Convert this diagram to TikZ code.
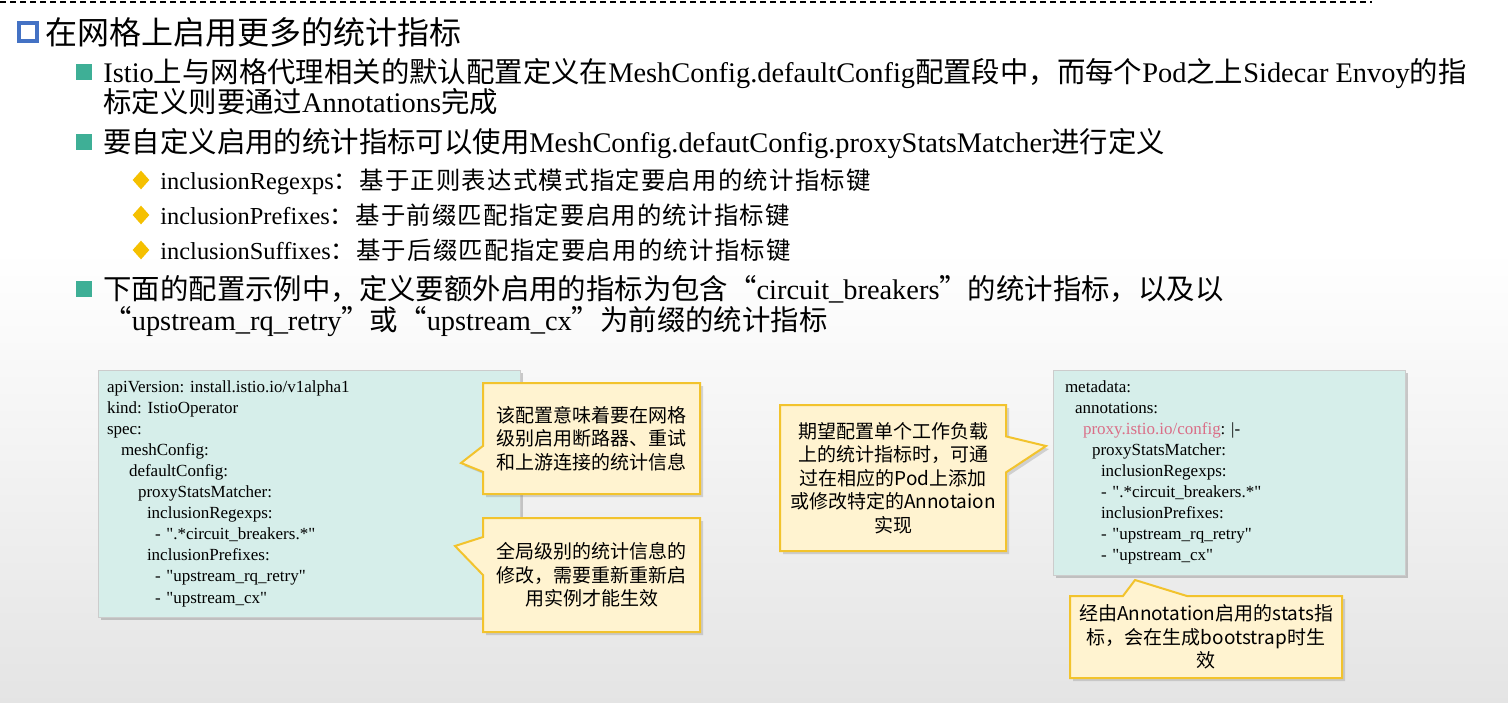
\documentclass[tikz,border=0pt]{standalone}
\usepackage{fontspec}
\setmainfont{Liberation Serif}
\newfontfamily\cjk{Noto Sans CJK SC}
\newfontfamily\cjkwide{Noto Sans CJK SC}[LetterSpace=5]
\font\codefnt="Liberation Serif" at 8.5pt
\usetikzlibrary{shapes.geometric,shapes.callouts,shadows}

% CJK runs switch to the CJK font automatically
\newXeTeXintercharclass\zhclass
\newcount\zhcode
\def\zhrange#1#2{\zhcode=#1 \loop\XeTeXcharclass\zhcode=\zhclass \ifnum\zhcode<#2 \advance\zhcode by 1 \repeat}
\zhrange{"3000}{"303F}
\zhrange{"4E00}{"9FFF}
\zhrange{"FF00}{"FFEF}
\XeTeXcharclass"201C=\zhclass
\XeTeXcharclass"201D=\zhclass
\def\zhfont{\cjk}
\def\enfont{\rmfamily}
\XeTeXinterchartoks 0 \zhclass={\zhfont}
\XeTeXinterchartoks 4095 \zhclass={\zhfont}
\XeTeXinterchartoks \zhclass 0={\enfont}
\XeTeXinterchartoks \zhclass 4095={\enfont}
\XeTeXinterchartokenstate=1
\newcommand\notefont{\fontsize{9.5}{11.7}\selectfont\cjk\let\enfont\cjk}
\newcommand\widefont{\fontsize{12.2}{14}\selectfont\let\zhfont\cjkwide}
\newcommand\yamlfont{\fontsize{8.5}{10.55}\selectfont\codefnt\frenchspacing}

\definecolor{codebg}{RGB}{214,238,234}
\definecolor{notebg}{RGB}{255,243,208}
\definecolor{noteline}{RGB}{242,195,45}
\definecolor{bulgreen}{RGB}{62,175,150}
\definecolor{bulblue}{RGB}{68,114,196}
\definecolor{bulyellow}{RGB}{245,192,0}
\definecolor{keypink}{RGB}{218,110,135}

\begin{document}
\begin{tikzpicture}[x=0.5pt,y=-0.5pt,
  lvone/.style={anchor=base west,inner sep=0pt,font=\fontsize{14.2}{16}\selectfont},
  lvtwo/.style={anchor=base west,inner sep=0pt,font=\widefont},
  code/.style={draw=gray!40,fill=codebg,align=left,inner ysep=3pt,font=\yamlfont,
    drop shadow={shadow xshift=1.5pt,shadow yshift=-1.5pt,opacity=.4}},
  note/.style={rectangle callout,draw=noteline,line width=1pt,fill=notebg,align=center,
    callout pointer width=14pt,inner sep=2pt,font=\notefont,
    drop shadow={shadow xshift=1.5pt,shadow yshift=-1.5pt,opacity=.3}}]
  \tikzset{sq/.style={fill=bulgreen,minimum size=8pt,inner sep=0pt},
    dia/.style={diamond,fill=bulyellow,minimum width=8.5pt,minimum height=9.5pt,inner sep=0pt}}
  \useasboundingbox (0,0) rectangle (1508,702);
  \fill[white] (0,0) rectangle (1508,702);
  \shade[top color=white,bottom color=gray!21] (0,250) rectangle (1508,702);
  \draw[line width=1.1pt,dash pattern=on 3pt off 2pt] (0,2) -- (1372,2);

  % heading
  \node[draw=bulblue,line width=2pt,minimum size=9pt,inner sep=0pt] (hb) at (28,32) {};
  \node[anchor=base west,inner sep=0pt,font=\fontsize{16}{18}\selectfont] (title) at (45,44) {在网格上启用更多的统计指标};

  % first level
  \node[sq] (b1) at (84,72) {};
  \node[lvone] (t1) at (103,82) {Istio上与网格代理相关的默认配置定义在MeshConfig.defaultConfig配置段中，而每个Pod之上Sidecar Envoy的指};
  \node[lvone] (t1b) at (103,112) {标定义则要通过Annotations完成};
  \node[sq] (b2) at (84,142) {};
  \node[lvone] (t2) at (103,152) {要自定义启用的统计指标可以使用MeshConfig.defautConfig.proxyStatsMatcher进行定义};
  \node[sq] (b3) at (84,289) {};
  \node[lvone] (t3) at (103,299) {下面的配置示例中，定义要额外启用的指标为包含“circuit\_breakers”的统计指标，以及以};
  \node[lvone] (t3b) at (103,330) {“upstream\_rq\_retry”或“upstream\_cx”为前缀的统计指标};

  % second level
  \node[dia] (d1) at (141,180) {};
  \node[lvtwo] (k1) at (160,189) {inclusionRegexps：基于正则表达式模式指定要启用的统计指标键};
  \node[dia] (d2) at (141,215) {};
  \node[lvtwo] (k2) at (160,224) {inclusionPrefixes：基于前缀匹配指定要启用的统计指标键};
  \node[dia] (d3) at (141,250) {};
  \node[lvtwo] (k3) at (160,259) {inclusionSuffixes：基于后缀匹配指定要启用的统计指标键};

  % mesh wide config
  \node[code,minimum width=211pt,minimum height=123.5pt,text width=202pt,inner xsep=4.5pt] (mesh) at (309,493.5)
    {apiVersion: install.istio.io/v1alpha1\\
     kind: IstioOperator\\
     spec:\\
     \hspace*{7pt}meshConfig:\\
     \hspace*{11pt}defaultConfig:\\
     \hspace*{15.5pt}proxyStatsMatcher:\\
     \hspace*{20pt}inclusionRegexps:\\
     \hspace*{24pt}- ".*circuit\_breakers.*"\\
     \hspace*{20pt}inclusionPrefixes:\\
     \hspace*{24pt}- "upstream\_rq\_retry"\\
     \hspace*{24pt}- "upstream\_cx"};
  \node[note,callout absolute pointer={(461,463)},callout pointer width=13pt,minimum width=108.5pt,minimum height=55.5pt] (n1) at (591.5,438.5)
    {该配置意味着要在网格\\级别启用断路器、重试\\和上游连接的统计信息};
  \node[note,callout absolute pointer={(455,546)},callout pointer width=19pt,minimum width=108.5pt,minimum height=57pt] (n2) at (591.5,575)
    {全局级别的统计信息的\\修改，需要重新重新启\\用实例才能生效};

  % per pod annotation
  \node[code,minimum width=176pt,minimum height=102.5pt,text width=164pt,inner xsep=6pt] (pod) at (1229,472.5)
    {metadata:\\
     \hspace*{5pt}annotations:\\
     \hspace*{9pt}{\color{keypink}proxy.istio.io/config}: |-\\
     \hspace*{13.5pt}proxyStatsMatcher:\\
     \hspace*{18pt}inclusionRegexps:\\
     \hspace*{18pt}- ".*circuit\_breakers.*"\\
     \hspace*{18pt}inclusionPrefixes:\\
     \hspace*{18pt}- "upstream\_rq\_retry"\\
     \hspace*{18pt}- "upstream\_cx"};
  \node[note,callout absolute pointer={(1046,446)},callout pointer width=18pt,minimum width=113pt,minimum height=73pt] (n3) at (893,478)
    {期望配置单个工作负载\\上的统计指标时，可通\\过在相应的Pod上添加\\或修改特定的Annotaion\\实现};
  \node[note,callout absolute pointer={(1135,580)},callout pointer width=32pt,minimum width=136pt,minimum height=41pt] (n4) at (1206,637)
    {经由Annotation启用的stats指\\标，会在生成bootstrap时生\\效};
\end{tikzpicture}
\end{document}
